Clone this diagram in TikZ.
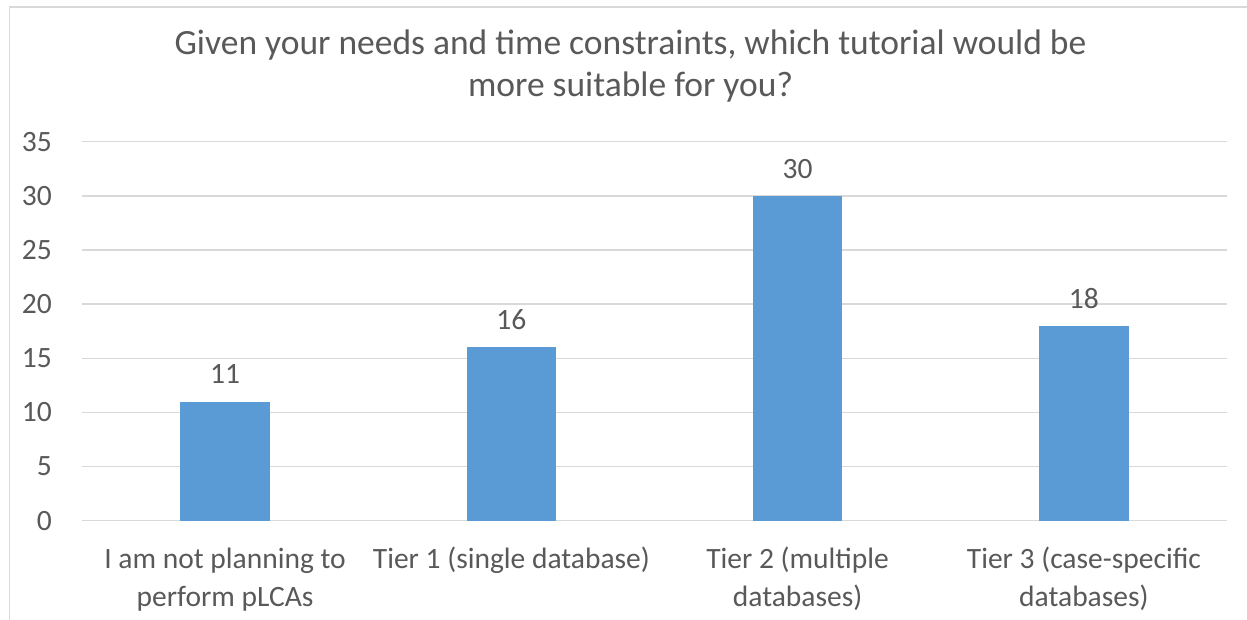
\documentclass[tikz,border=0pt]{standalone}
\usepackage{fontspec}
\setmainfont{Carlito}
\definecolor{txt}{HTML}{595959}
\definecolor{grid}{HTML}{D9D9D9}
\definecolor{bar}{HTML}{5B9BD5}
\begin{document}
\begin{tikzpicture}[x=1pt,y=-1pt,
  gridline/.style={draw=grid,line width=1.5pt},
  frameline/.style={draw=grid,line width=1.5pt},
  barbox/.style={fill=bar,draw=none},
  ticklabel/.style={anchor=east,inner sep=0pt,text=txt,font=\fontsize{29.5}{35}\selectfont},
  catlabel/.style={anchor=base,inner sep=0pt,text=txt,align=center,font=\fontsize{29.5}{38.5}\selectfont},
  vallabel/.style={anchor=base,inner sep=0pt,text=txt,font=\fontsize{29.5}{35}\selectfont},
  titlelabel/.style={anchor=base,inner sep=0pt,text=txt,align=center,font=\fontsize{35.5}{42}\selectfont}]
\useasboundingbox (0,0) rectangle (1247,620);
\fill[white] (0,0) rectangle (1247,620);
% frame
\coordinate (fbl) at (9.5,620);
\coordinate (ftl) at (9.5,7);
\coordinate (ftr) at (1247,7);
\draw[frameline] (fbl) -- (ftl) -- (ftr);
% gridlines and tick labels
\foreach \v/\n in {0/0,5/1,10/2,15/3,20/4,25/5,30/6,35/7}{
  \coordinate (gl\n) at (82,520.7-10.828*\v);
  \coordinate (gr\n) at (1227,520.7-10.828*\v);
  \draw[gridline] (gl\n) -- (gr\n);
  \node[ticklabel] (t\n) at (52,520.7-10.828*\v) {\v};
}
% bars
\foreach \i/\val/\cx in {1/11/225.1,2/16/511.4,3/30/797.6,4/18/1083.9}{
  \fill[barbox] (\cx-44.75,520.7) rectangle (\cx+44.75,520.7-10.828*\val);
  \node[vallabel] (v\i) at (\cx,520.7-10.828*\val-17.6) {\val};
}
% category labels (base anchor = last line baseline)
\node[catlabel] (c1) at (225.1,606.7) {I am not planning to\\perform pLCAs};
\node[catlabel] (c2) at (511.4,568.3) {Tier 1 (single database)};
\node[catlabel] (c3) at (797.6,606.7) {Tier 2 (multiple\\databases)};
\node[catlabel] (c4) at (1083.9,606.7) {Tier 3 (case-specific\\databases)};
% title
\node[titlelabel] (title) at (630.5,96.7) {Given your needs and time constraints, which tutorial would be\\more suitable for you?};
\end{tikzpicture}
\end{document}
